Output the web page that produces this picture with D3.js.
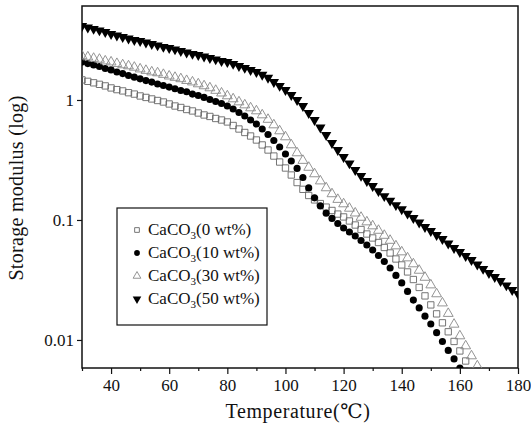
<!DOCTYPE html>
<html>
<head>
<meta charset="utf-8">
<script src="https://cdn.jsdelivr.net/npm/d3@7"></script>
<style>
  body { margin: 0; background: #fff; }
  text { font-family: "Liberation Serif", "DejaVu Serif", serif; }
</style>
</head>
<body>
<svg id="chart" width="531" height="428"></svg>
<script>
// temperatures (°C), one reading every 2 degrees
const temps50 = d3.range(30, 181, 2);
const temps30 = d3.range(30, 169, 2);
const temps10 = d3.range(30, 161, 2);
const temps0 = d3.range(30, 165, 2);

// storage modulus readings
const mod50 = [4.14, 4.02, 3.91, 3.80, 3.69, 3.55, 3.45, 3.35, 3.25, 3.16,
  3.10, 3.01, 2.93, 2.85, 2.77, 2.71, 2.64, 2.56, 2.49, 2.42,
  2.37, 2.30, 2.24, 2.18, 2.11, 2.07, 2.00, 1.92, 1.85, 1.78,
  1.71, 1.62, 1.53, 1.41, 1.31, 1.21, 1.10, 1.00, 0.891, 0.779,
  0.681, 0.590, 0.511, 0.438, 0.383, 0.335, 0.296, 0.261, 0.233, 0.211,
  0.192, 0.174, 0.158, 0.145, 0.133, 0.123, 0.113, 0.104, 0.0953, 0.0874,
  0.0810, 0.0750, 0.0695, 0.0637, 0.0584, 0.0541, 0.0501, 0.0464, 0.0426, 0.0391,
  0.0362, 0.0335, 0.0310, 0.0285, 0.0261, 0.0242];

const mod30 = [2.33, 2.28, 2.22, 2.18, 2.11, 2.07, 2.01, 1.96, 1.92, 1.87,
  1.81, 1.76, 1.71, 1.68, 1.63, 1.58, 1.54, 1.50, 1.45, 1.41,
  1.36, 1.31, 1.26, 1.20, 1.14, 1.08, 1.02, 0.962, 0.908, 0.858,
  0.810, 0.750, 0.688, 0.619, 0.552, 0.492, 0.422, 0.362, 0.313, 0.274,
  0.242, 0.211, 0.185, 0.165, 0.148, 0.136, 0.125, 0.114, 0.105, 0.0962,
  0.0891, 0.0818, 0.0743, 0.0675, 0.0607, 0.0541, 0.0482, 0.0430, 0.0380, 0.0332,
  0.0287, 0.0242, 0.0203, 0.0166, 0.0135, 0.0108, 0.00891, 0.00736, 0.00607, 0.00501];

const mod10 = [2.07, 2.01, 1.96, 1.90, 1.83, 1.78, 1.71, 1.66, 1.60, 1.55,
  1.50, 1.45, 1.41, 1.36, 1.32, 1.28, 1.24, 1.20, 1.17, 1.12,
  1.09, 1.05, 1.01, 0.972, 0.935, 0.891, 0.841, 0.787, 0.736, 0.681,
  0.631, 0.573, 0.516, 0.460, 0.406, 0.355, 0.310, 0.269, 0.226, 0.185,
  0.153, 0.131, 0.114, 0.103, 0.0935, 0.0858, 0.0794, 0.0736, 0.0675, 0.0619,
  0.0562, 0.0506, 0.0451, 0.0398, 0.0345, 0.0299, 0.0254, 0.0215, 0.0185, 0.0158,
  0.0136, 0.0115, 0.00972, 0.00818, 0.00695, 0.00584];

const mod0 = [1.47, 1.43, 1.39, 1.35, 1.31, 1.26, 1.22, 1.19, 1.15, 1.12,
  1.08, 1.05, 1.02, 0.990, 0.962, 0.926, 0.891, 0.866, 0.833, 0.810,
  0.779, 0.750, 0.729, 0.701, 0.681, 0.656, 0.613, 0.573, 0.536, 0.501,
  0.464, 0.422, 0.383, 0.341, 0.304, 0.271, 0.237, 0.205, 0.180, 0.160,
  0.147, 0.137, 0.128, 0.120, 0.112, 0.106, 0.0981, 0.0908, 0.0833, 0.0764,
  0.0708, 0.0649, 0.0590, 0.0531, 0.0473, 0.0422, 0.0369, 0.0319, 0.0274, 0.0233,
  0.0196, 0.0165, 0.0139, 0.0117, 0.00972, 0.00810, 0.00668, 0.00551];

const seriesNames = ["0 wt%", "10 wt%", "30 wt%", "50 wt%"];
const xTicks = [40, 60, 80, 100, 120, 140, 160, 180];
const xMinorTicks = [30, 50, 70, 90, 110, 130, 150, 170];
const yTicks = [1, 0.1, 0.01];

const svg = d3.select("#chart");
const margin = { left: 82, right: 13, top: 6, bottom: 60 };
const width = 531 - margin.left - margin.right;
const height = 428 - margin.top - margin.bottom;

let x = d3.scaleLinear().domain([30, 180]).range([0, width]);
let y = d3.scaleLog().domain([0.00584, 6.07]).range([height, 0]);

let plot = svg.append("g")
  .attr("transform", `translate(${margin.left}, ${margin.top})`);

plot.append("clipPath")
  .attr("id", "clip")
  .append("rect")
  .attr("width", width)
  .attr("height", height);

// axes
let xAxis = plot.append("g")
  .attr("transform", `translate(0, ${height})`)
  .call(d3.axisBottom(x).tickValues(xTicks).tickSize(6).tickPadding(5).tickFormat(d3.format("d")));

plot.append("g")
  .attr("transform", `translate(0, ${height})`)
  .call(d3.axisBottom(x).tickValues(xMinorTicks).tickSize(3).tickFormat(""))
  .select(".domain").remove();

let yAxis = plot.append("g")
  .call(d3.axisLeft(y).tickValues(yTicks).tickSize(5).tickPadding(3).tickFormat(d => d));

[xAxis, yAxis].forEach(a => {
  a.selectAll("text")
    .attr("font-size", 17)
    .attr("fill", "#111")
    .attr("font-family", "Liberation Serif");
  a.select(".domain").remove();
});
plot.selectAll(".tick line").attr("stroke", "#111").attr("stroke-width", 1.2);

// frame
plot.append("rect")
  .attr("width", width)
  .attr("height", height)
  .attr("fill", "none")
  .attr("stroke", "#111")
  .attr("stroke-width", 1.5);

// markers
let marks = plot.append("g").attr("clip-path", "url(#clip)");

let series = [
  { t: temps0, v: mod0, shape: d3.symbolSquare, size: 40, legSize: 22, fill: "none", stroke: "#666", rot: 0 },
  { t: temps10, v: mod10, shape: d3.symbolCircle, size: 40, legSize: 26, fill: "#000", stroke: "none", rot: 0 },
  { t: temps30, v: mod30, shape: d3.symbolTriangle, size: 42, legSize: 26, fill: "none", stroke: "#888", rot: 0 },
  { t: temps50, v: mod50, shape: d3.symbolTriangle, size: 46, legSize: 32, fill: "#000", stroke: "none", rot: 180 }
];

series.forEach(s => {
  let sym = d3.symbol().type(s.shape).size(s.size);
  marks.append("g")
    .selectAll("path")
    .data(s.t.map((t, i) => [t, s.v[i]]))
    .enter()
    .append("path")
    .attr("d", sym)
    .attr("transform", d => `translate(${x(d[0])}, ${y(d[1])}) rotate(${s.rot})`)
    .attr("fill", s.fill)
    .attr("stroke", s.stroke)
    .attr("stroke-width", 0.9);
});

// legend
let legend = plot.append("g").attr("transform", "translate(35, 202)");

legend.append("rect")
  .attr("width", 150)
  .attr("height", 117)
  .attr("fill", "#fff")
  .attr("stroke", "#111")
  .attr("stroke-width", 1.2);

series.forEach((s, i) => {
  let row = legend.append("g").attr("transform", `translate(20, ${22 + i * 23})`);
  row.append("path")
    .attr("d", d3.symbol().type(s.shape).size(s.legSize))
    .attr("transform", `rotate(${s.rot})`)
    .attr("fill", s.fill)
    .attr("stroke", s.stroke)
    .attr("stroke-width", 0.9);
  let label = row.append("text")
    .attr("x", 11)
    .attr("y", 5)
    .attr("font-size", 17)
    .attr("fill", "#111");
  label.append("tspan").text("CaCO");
  label.append("tspan").attr("font-size", 11).attr("dy", 4).text("3");
  label.append("tspan").attr("dy", -4).text(`(${seriesNames[i]})`);
});

// axis titles
svg.append("text")
  .attr("x", margin.left + width / 2 - 2)
  .attr("y", 418)
  .attr("text-anchor", "middle")
  .attr("font-size", 20)
  .attr("letter-spacing", 0.6)
  .attr("fill", "#111")
  .text("Temperature(℃)");

svg.append("text")
  .attr("transform", `translate(23, ${margin.top + height / 2 + 1}) rotate(-90)`)
  .attr("text-anchor", "middle")
  .attr("font-size", 20)
  .attr("letter-spacing", 0.3)
  .attr("fill", "#111")
  .text("Storage modulus (log)");
</script>
</body>
</html>
